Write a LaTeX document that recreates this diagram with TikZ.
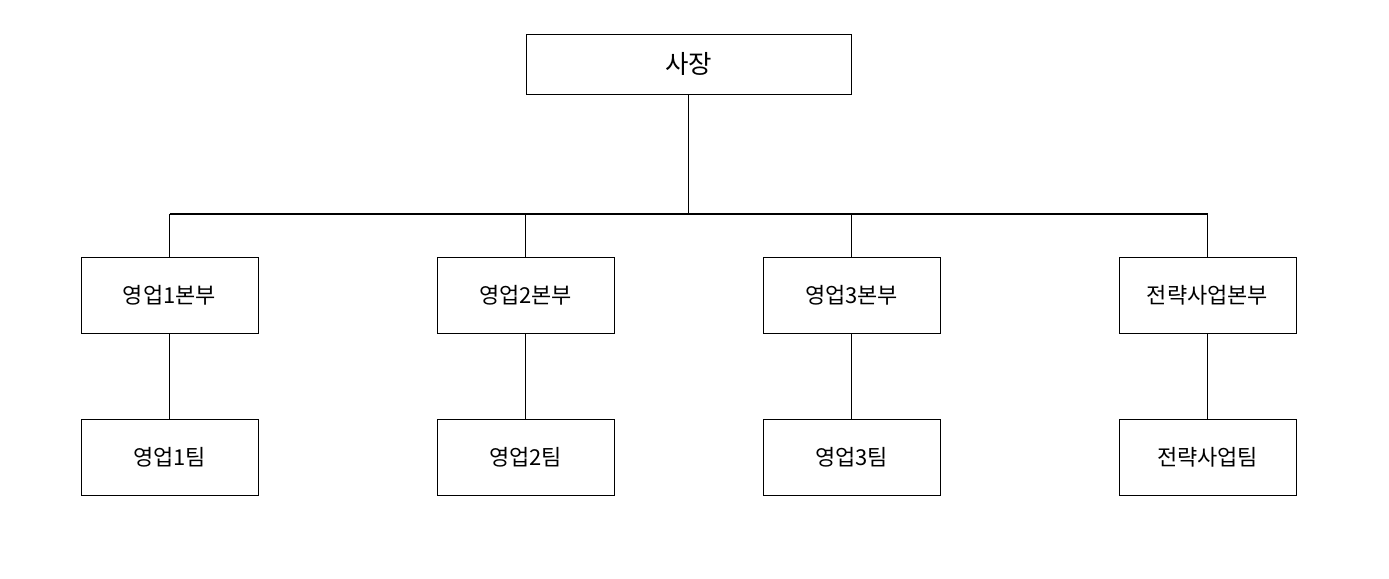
\documentclass[tikz,border=0pt]{standalone}
\usepackage{fontspec}
\setmainfont{Noto Sans CJK KR}
\usetikzlibrary{positioning}
\tikzstyle{topbox} = [
	rectangle,
	draw,
	minimum width = 6.5cm,
	minimum height = 1.2cm,
	font = \fontsize{14.5}{17}\selectfont,
]
\tikzstyle{unit} = [
	rectangle,
	draw,
	minimum width = 3.54cm,
	minimum height = 1.52cm,
	font = \fontsize{12.5}{15}\selectfont,
]
\tikzstyle{line} = [draw, line width = 0.6pt]

\begin{document}
\begin{tikzpicture}[x = 0.02cm, y = -0.02cm]
	\useasboundingbox (0,0) rectangle (1389,578);
	% nodes
	\node[topbox] (boss) at (688.5,64) {사장};
	\coordinate (bus) at (688.5,214);
	\node[unit] (div1) at (169.5,295) {영업1본부};
	\node[unit] (div2) at (525.5,295) {영업2본부};
	\node[unit] (div3) at (851.5,295) {영업3본부};
	\node[unit] (div4) at (1207.5,295) {전략사업본부};
	\node[unit, below = 1.72cm of div1] (team1) {영업1팀};
	\node[unit, below = 1.72cm of div2] (team2) {영업2팀};
	\node[unit, below = 1.72cm of div3] (team3) {영업3팀};
	\node[unit, below = 1.72cm of div4] (team4) {전략사업팀};

	% lines
	\path[line] (boss.south) -- (bus);
	\path[line] (bus -| div1.north) -- (bus -| div4.north);
	\foreach \i in {1,...,4} {
		\path[line] (div\i.north) -- (bus -| div\i.north);
		\path[line] (div\i) -- (team\i);
	}
\end{tikzpicture}
\end{document}
